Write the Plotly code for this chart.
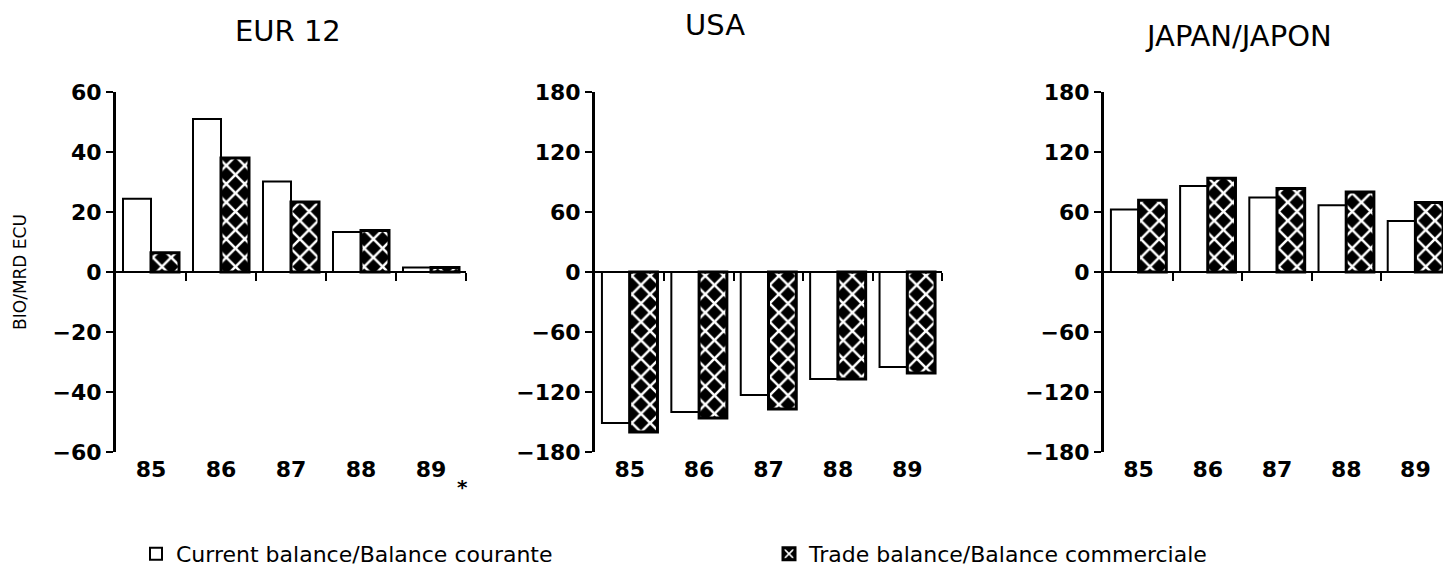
import plotly.graph_objects as go

years = ['85', '86', '87', '88', '89']
year_pos = [0, 1, 2, 3, 4]
boundaries = [0.5, 1.5, 2.5, 3.5, 4.5]

# BIO/MRD ECU
eur_current = [24.4, 51.0, 30.2, 13.3, 1.5]
eur_trade = [6.4, 38.0, 23.3, 13.8, 1.5]
usa_current = [-151, -140, -123, -107, -95]
usa_trade = [-160, -146, -137, -107, -101]
jap_current = [62.6, 86.0, 74.4, 66.7, 51.0]
jap_trade = [71.7, 93.7, 83.4, 80.0, 69.4]

panels = [
    ('EUR 12', eur_current, eur_trade, [-60, 60], [-60, -40, -20, 0, 20, 40, 60]),
    ('USA', usa_current, usa_trade, [-180, 180], [-180, -120, -60, 0, 60, 120, 180]),
    ('JAPAN/JAPON', jap_current, jap_trade, [-180, 180], [-180, -120, -60, 0, 60, 120, 180]),
]

# page body adds an 8px margin, so the figure is 8px smaller than the window
W, H = 1443, 562
x_domains = [(108 / W, 458 / W), (587 / W, 934 / W), (1096 / W, 1442 / W)]
y_domain = (1 - 444 / H, 1 - 84 / H)
y_mid = (y_domain[0] + y_domain[1]) / 2

FONT = 'DejaVu Sans'

fig = go.Figure()
layout = dict(
    width=W, height=H,
    margin=dict(l=0, r=0, t=0, b=0, autoexpand=False),
    paper_bgcolor='white', plot_bgcolor='white',
    barmode='group', bargap=0.2, bargroupgap=0,
    font=dict(family=FONT, color='black'),
    showlegend=True,
    legend=dict(orientation='h', x=128 / W, xanchor='left', y=1 - 546 / H, yanchor='middle',
                entrywidth=588, entrywidthmode='pixels', font=dict(size=22, family=FONT),
                itemwidth=30, traceorder='normal'),
)

annotations = []
for i, (title, cur, trd, yrange, yticks) in enumerate(panels):
    n = i + 1
    xa = 'x' if n == 1 else f'x{n}'
    ya = 'y' if n == 1 else f'y{n}'
    fig.add_trace(go.Bar(
        x=year_pos, y=cur, xaxis=xa, yaxis=ya,
        name='Current balance/Balance courante', showlegend=(n == 1),
        marker=dict(color='white', line=dict(color='black', width=2)),
    ))
    fig.add_trace(go.Bar(
        x=year_pos, y=trd, xaxis=xa, yaxis=ya,
        name='Trade balance/Balance commerciale', showlegend=(n == 1),
        marker=dict(color='black', line=dict(color='black', width=3),
                    pattern=dict(shape='x', fgcolor='white', bgcolor='black', fgopacity=1,
                                 size=13, solidity=0.35)),
    ))
    # bottom axis carrying the year labels
    layout['xaxis' if n == 1 else f'xaxis{n}'] = dict(
        domain=list(x_domains[i]), anchor=ya, range=[-0.5, 4.5], automargin=False,
        tickvals=year_pos, ticktext=years, showline=False, showgrid=False, zeroline=False,
        ticks='', tickfont=dict(size=22, family=FONT, weight='bold'), ticklabelstandoff=2,
    )
    # zero line with ticks at category boundaries
    layout[f'xaxis{n + 3}'] = dict(
        overlaying=xa, anchor='free', position=y_mid, range=[-0.5, 4.5], automargin=False,
        tickvals=boundaries, showticklabels=False, showline=True, linecolor='black', linewidth=2,
        ticks='outside', ticklen=8, tickwidth=2, tickcolor='black', showgrid=False, zeroline=False,
    )
    layout['yaxis' if n == 1 else f'yaxis{n}'] = dict(
        domain=list(y_domain), anchor=xa, range=yrange, tickvals=yticks, automargin=False,
        showline=True, linecolor='black', linewidth=3, ticks='outside', ticklen=7, tickwidth=2,
        tickcolor='black', showgrid=False, zeroline=False,
        tickfont=dict(size=22, family=FONT, weight='bold'),
    )
    # invisible trace so the overlay axis gets drawn
    fig.add_trace(go.Scatter(x=[0], y=[0], xaxis=f'x{n + 3}', yaxis=ya, mode='markers',
                             marker=dict(opacity=0), showlegend=False, hoverinfo='skip'))

layout['yaxis']['title'] = dict(text='BIO/MRD ECU', font=dict(size=17, family=FONT), standoff=22)

title_pos = [(280, 23), (707, 17), (1230, 28)]
for (title, *_), (tx, ty) in zip(panels, title_pos):
    annotations.append(dict(text=title, x=tx / W, y=1 - ty / H, xref='paper', yref='paper',
                            xanchor='center', yanchor='middle', showarrow=False,
                            font=dict(size=29, family=FONT)))
annotations.append(dict(text='*', x=4.45, xref='x', y=1 - 479 / H, yref='paper', showarrow=False,
                        xanchor='center', yanchor='middle', font=dict(size=20, family=FONT, weight='bold')))
layout['annotations'] = annotations

fig.update_layout(**layout)
fig.write_html('out.html')
